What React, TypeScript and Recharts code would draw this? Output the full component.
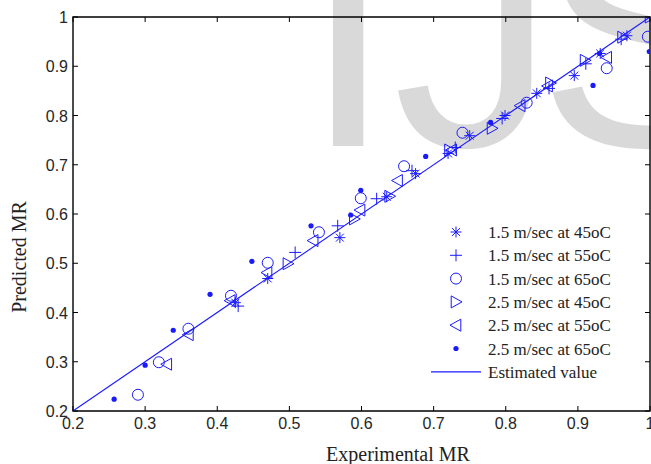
import React from 'react';
import { ScatterChart, Scatter, XAxis, YAxis, ReferenceArea, Legend } from 'recharts';

const W = 651;
const H = 464;
const PLOT = { left: 73, top: 17, right: 650, bottom: 411 };
const BLUE = '#1a1aff';

const xTicks = [0.2, 0.3, 0.4, 0.5, 0.6, 0.7, 0.8, 0.9, 1];
const yTicks = [0.2, 0.3, 0.4, 0.5, 0.6, 0.7, 0.8, 0.9, 1];

const seriesNames = [
  '1.5 m/sec at 45oC',
  '1.5 m/sec at 55oC',
  '1.5 m/sec at 65oC',
  '2.5 m/sec at 45oC',
  '2.5 m/sec at 55oC',
  '2.5 m/sec at 65oC',
  'Estimated value',
];

// [experimental, predicted]
const v15at45: [number, number][] = [
  [0.425, 0.42], [0.47, 0.469], [0.57, 0.552], [0.635, 0.635], [0.675, 0.682],
  [0.72, 0.723], [0.75, 0.759], [0.799, 0.8], [0.843, 0.845], [0.895, 0.881],
  [0.931, 0.926], [0.968, 0.962],
];
const v15at55: [number, number][] = [
  [0.429, 0.413], [0.508, 0.522], [0.567, 0.576], [0.621, 0.631], [0.67, 0.688],
  [0.73, 0.735], [0.795, 0.794], [0.86, 0.855], [0.911, 0.905], [0.96, 0.955],
];
const v15at65: [number, number][] = [
  [0.29, 0.233], [0.319, 0.299], [0.36, 0.367], [0.419, 0.434], [0.47, 0.501],
  [0.541, 0.563], [0.599, 0.632], [0.659, 0.697], [0.74, 0.765], [0.829, 0.826],
  [0.94, 0.896], [0.997, 0.96],
];
const v25at45: [number, number][] = [
  [0.498, 0.499], [0.59, 0.59], [0.639, 0.636], [0.722, 0.73], [0.781, 0.774],
  [0.862, 0.866], [0.91, 0.912], [0.962, 0.959], [1.0, 1.0],
];
const v25at55: [number, number][] = [
  [0.33, 0.295], [0.36, 0.355], [0.418, 0.424], [0.469, 0.481], [0.533, 0.546],
  [0.598, 0.608], [0.65, 0.668], [0.725, 0.73], [0.82, 0.82], [0.858, 0.86],
  [0.94, 0.918],
];
const v25at65: [number, number][] = [
  [0.257, 0.224], [0.3, 0.293], [0.339, 0.364], [0.39, 0.437], [0.448, 0.504],
  [0.53, 0.576], [0.585, 0.598], [0.599, 0.648], [0.689, 0.717], [0.779, 0.786],
  [0.921, 0.861], [0.93, 0.926], [0.999, 0.93],
];
const estimated: [number, number][] = [[0.2, 0.2], [1, 1]];

const toPts = (arr: [number, number][]) => arr.map(([x, y]) => ({ x, y }));

type MarkerKind = 'asterisk' | 'plus' | 'circle' | 'triRight' | 'triLeft' | 'dot' | 'line';
const kinds: MarkerKind[] = ['asterisk', 'plus', 'circle', 'triRight', 'triLeft', 'dot', 'line'];

function Marker({ kind, cx, cy }: { kind: MarkerKind; cx: number; cy: number }) {
  const sw = 1;
  if (kind === 'asterisk') {
    const r = 5.5;
    const d = r * 0.72;
    return (
      <g stroke={BLUE} strokeWidth={sw}>
        <line x1={cx - r} x2={cx + r} y1={cy} y2={cy} />
        <line x1={cx} x2={cx} y1={cy - r} y2={cy + r} />
        <line x1={cx - d} y1={cy - d} x2={cx + d} y2={cy + d} />
        <line x1={cx - d} y1={cy + d} x2={cx + d} y2={cy - d} />
      </g>
    );
  }
  if (kind === 'plus') {
    const r = 6;
    return (
      <g stroke={BLUE} strokeWidth={sw}>
        <line x1={cx - r} x2={cx + r} y1={cy} y2={cy} />
        <line x1={cx} x2={cx} y1={cy - r} y2={cy + r} />
      </g>
    );
  }
  if (kind === 'circle') {
    return <circle cx={cx} cy={cy} r={5.5} fill="none" stroke={BLUE} strokeWidth={sw} />;
  }
  if (kind === 'triRight') {
    const r = 6;
    return (
      <polygon
        points={`${cx + r},${cy} ${cx - r * 0.8},${cy - r} ${cx - r * 0.8},${cy + r}`}
        fill="none"
        stroke={BLUE}
        strokeWidth={sw}
      />
    );
  }
  if (kind === 'triLeft') {
    const r = 6;
    return (
      <polygon
        points={`${cx - r},${cy} ${cx + r * 0.8},${cy - r} ${cx + r * 0.8},${cy + r}`}
        fill="none"
        stroke={BLUE}
        strokeWidth={sw}
      />
    );
  }
  if (kind === 'dot') {
    return <circle cx={cx} cy={cy} r={2.6} fill={BLUE} stroke="none" />;
  }
  return <line x1={cx - 25} x2={cx + 25} y1={cy} y2={cy} stroke={BLUE} strokeWidth={1.2} />;
}

const fmt = (v: number) => String(Number(v.toFixed(1)));
const tickFont = "'Liberation Sans', Arial, Helvetica, sans-serif";
const serif = "'Liberation Serif', 'Times New Roman', Times, serif";

function XTick(props: any) {
  const { x, payload } = props;
  return (
    <g>
      <line x1={x} x2={x} y1={PLOT.bottom} y2={PLOT.bottom - 5} stroke="#000" strokeWidth={1} />
      <line x1={x} x2={x} y1={PLOT.top} y2={PLOT.top + 5} stroke="#000" strokeWidth={1} />
      <text x={x} y={PLOT.bottom + 18} textAnchor="middle" fontFamily={tickFont} fontSize={16} fill="#262626">
        {fmt(payload.value)}
      </text>
    </g>
  );
}

function YTick(props: any) {
  const { y, payload } = props;
  return (
    <g>
      <line x1={PLOT.left} x2={PLOT.left + 5} y1={y} y2={y} stroke="#000" strokeWidth={1} />
      <line x1={PLOT.right} x2={PLOT.right - 5} y1={y} y2={y} stroke="#000" strokeWidth={1} />
      <text x={PLOT.left - 5} y={y + 6} textAnchor="end" fontFamily={tickFont} fontSize={16} fill="#262626">
        {fmt(payload.value)}
      </text>
    </g>
  );
}

function LegendBox() {
  const rowY0 = 22;
  const rowH = 23.3;
  return (
    <svg width={220} height={170} style={{ display: 'block', overflow: 'visible' }}>
      {seriesNames.map((name, i) => {
        const cy = rowY0 + i * rowH;
        return (
          <g key={name}>
            <Marker kind={kinds[i]} cx={36} cy={cy} />
            <text x={68} y={cy + 6} fontFamily={serif} fontSize={17} fill="#222">
              {name}
            </text>
          </g>
        );
      })}
    </svg>
  );
}

function Watermark() {
  const style = { fontFamily: "'Liberation Sans', Arial, sans-serif", fontSize: 325, fill: '#d9d9d9' } as const;
  return (
    <svg width={W} height={H} style={{ position: 'absolute', left: 0, top: 0 }}>
      <text x={303} y={146} {...style}>I</text>
      <text x={393} y={146} {...style}>J</text>
      <text x={538} y={146} {...style}>S</text>
    </svg>
  );
}

export default function App() {
  const series = [v15at45, v15at55, v15at65, v25at45, v25at55, v25at65];
  return (
    <div style={{ position: 'absolute', left: 0, top: 0, width: W, height: H, background: '#fff', overflow: 'hidden' }}>
      <Watermark />
      <div style={{ position: 'absolute', left: 0, top: 0 }}>
        <ScatterChart width={W} height={H} margin={{ top: 17, right: 1, left: 0, bottom: 0 }}>
          <XAxis
            type="number"
            dataKey="x"
            domain={[0.2, 1]}
            ticks={xTicks}
            interval={0}
            allowDataOverflow
            axisLine={false}
            tickLine={false}
            tick={<XTick />}
            height={53}
          />
          <YAxis
            type="number"
            dataKey="y"
            domain={[0.2, 1]}
            ticks={yTicks}
            interval={0}
            allowDataOverflow
            axisLine={false}
            tickLine={false}
            tick={<YTick />}
            width={73}
          />
          <ReferenceArea x1={0.2} x2={1} y1={0.2} y2={1} fill="none" stroke="#000" strokeWidth={1.4} ifOverflow="visible" />
          <Scatter
            name={seriesNames[6]}
            data={toPts(estimated)}
            line={{ stroke: BLUE, strokeWidth: 1.1 }}
            shape={() => <g />}
            isAnimationActive={false}
          />
          {series.map((s, i) => (
            <Scatter
              key={seriesNames[i]}
              name={seriesNames[i]}
              data={toPts(s)}
              isAnimationActive={false}
              shape={(p: any) => <Marker kind={kinds[i]} cx={p.cx} cy={p.cy} />}
            />
          ))}
          <Legend
            layout="vertical"
            align="center"
            verticalAlign="middle"
            wrapperStyle={{ position: 'absolute', left: 420, top: 210, width: 220, height: 170 }}
            content={() => <LegendBox />}
          />
        </ScatterChart>
        <svg width={W} height={H} style={{ position: 'absolute', left: 0, top: 0, pointerEvents: 'none' }}>
          <text x={398} y={461} textAnchor="middle" fontFamily={serif} fontSize={20} fill="#222">
            Experimental MR
          </text>
          <text
            x={0}
            y={0}
            transform="translate(26,257) rotate(-90)"
            textAnchor="middle"
            fontFamily={serif}
            fontSize={20}
            fill="#222"
          >
            Predicted MR
          </text>
        </svg>
      </div>
    </div>
  );
}
